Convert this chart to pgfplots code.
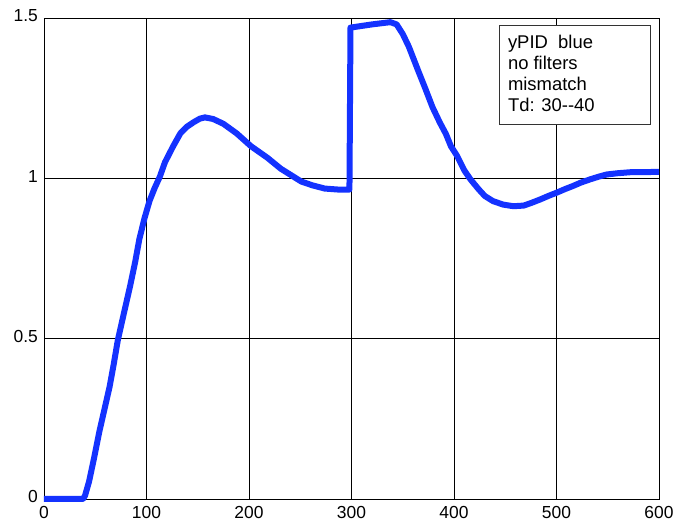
\documentclass[border=0pt]{standalone}
\usepackage{pgfplots}
\pgfplotsset{compat=1.18}
\usepackage{fontspec}
\setmainfont{Liberation Sans}
\definecolor{ypid}{RGB}{20,50,255}

\begin{document}
\begin{tikzpicture}[x=1bp,y=1bp]
\begin{axis}[
  at={(0,0)}, anchor=south west,
  scale only axis,
  width=615bp, height=481bp,
  xmin=0, xmax=600, ymin=0, ymax=1.5,
  xtick={0,100,...,600},
  ytick={0,0.5,1,1.5},
  yticklabels={0,0.5,1,1.5},
  grid=major, grid style={black, line width=0.6bp},
  axis line style={black, line width=0.8bp},
  major tick length=0pt,
  tick label style={font=\fontsize{17.5}{20}\selectfont},
  /pgf/number format/assume math mode=true,
  xticklabel style={anchor=north, inner sep=0pt, yshift=-7bp},
  yticklabel style={anchor=east, inner sep=0pt, xshift=-6bp, yshift=2bp},
  clip=false,
]
% yPID response
\addplot[ypid, line width=6bp, line join=round] coordinates {
  (0,0) (38,0) (40,0.01) (44,0.055) (49,0.13) (54,0.21) (59,0.28)
  (64,0.35) (68,0.42) (72,0.495) (78,0.58) (84,0.664) (89,0.74)
  (93,0.81) (98,0.875) (103,0.93) (108,0.97) (113,1.005) (118,1.05)
  (126,1.1) (133,1.14) (139,1.16) (146,1.175) (152,1.186) (157,1.19)
  (165,1.185) (175,1.17) (188,1.14) (202,1.10) (218,1.064) (231,1.03)
  (241,1.01) (251,0.99) (262,0.978) (274,0.968) (287,0.965) (298,0.965)
  (299,1.47) (320,1.48) (338,1.487) (344,1.48) (350,1.45) (356,1.41)
  (365,1.336) (372,1.28) (379,1.222) (386,1.175) (392,1.139) (397,1.10)
  (403,1.07) (410,1.025) (416,0.997) (424,0.966) (430,0.945) (438,0.929)
  (448,0.918) (458,0.913) (468,0.915) (476,0.924) (484,0.934) (492,0.945)
  (500,0.955) (508,0.966) (516,0.976) (524,0.987) (533,0.997) (541,1.005)
  (549,1.012) (560,1.016) (572,1.019) (600,1.02)
};
\fill[white] (axis cs:444,1.168) rectangle (axis cs:592,1.476);
\draw[black!80, line width=0.7bp] (axis cs:444,1.168) rectangle (axis cs:592,1.476);
\node[anchor=north west, align=left, inner sep=0pt,
      font=\fontsize{18.5}{21}\selectfont] at (axis cs:452.5,1.447)
  {yPID\ \ blue\\no filters\\mismatch\\Td: 30-{}-40};
\end{axis}
\pgfresetboundingbox
\path[use as bounding box] (-44,-25) rectangle (634,499);
\end{tikzpicture}
\end{document}
